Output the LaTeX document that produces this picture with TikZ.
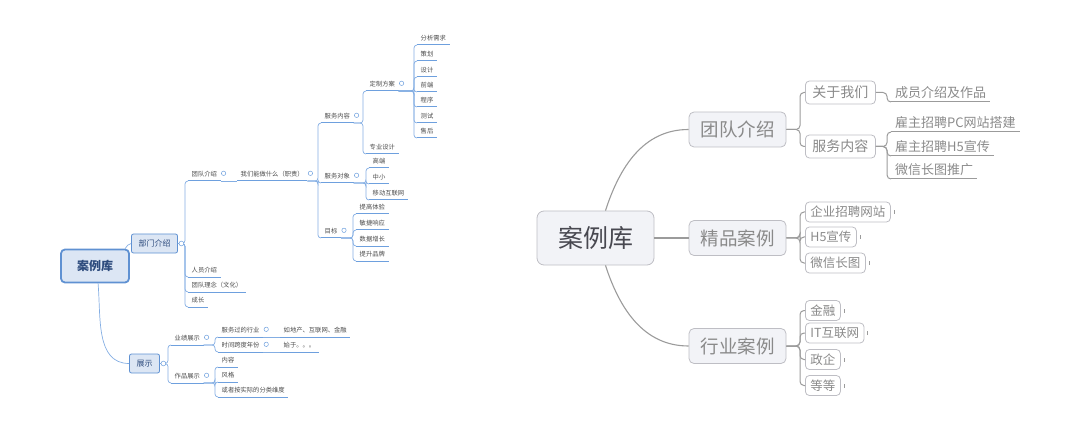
\documentclass[tikz,border=0pt]{standalone}
\usepackage{fontspec}
\setmainfont{Noto Sans CJK SC}
\usepackage{tikz}
\usetikzlibrary{positioning}
\definecolor{mapblue}{RGB}{95,145,210}
\definecolor{mapbluefill}{RGB}{220,230,244}
\definecolor{mapbluetext}{RGB}{45,75,125}
\definecolor{leafblue}{RGB}{110,160,222}
\definecolor{leaftext}{RGB}{75,75,75}
\definecolor{graybox}{RGB}{190,190,196}
\definecolor{grayfill}{RGB}{242,243,247}
\definecolor{grayline}{RGB}{155,155,155}
\definecolor{graytext}{RGB}{138,138,138}
\definecolor{rootgray}{RGB}{72,72,80}

\begin{document}
\begin{tikzpicture}[x=1pt, y=-1pt,
        lroot/.style={rectangle, draw=mapblue, line width=1.8pt, fill=mapbluefill, rounded corners=4pt, minimum width=68pt, minimum height=33pt, inner sep=0pt, font=\fontsize{12}{14}\selectfont\bfseries, text=mapbluetext},
        lmain/.style={rectangle, draw=mapblue, line width=0.8pt, fill=mapbluefill, rounded corners=2pt, minimum height=19pt, inner xsep=7pt, inner ysep=0pt, font=\fontsize{8}{10}\selectfont, text=mapbluetext},
        lline/.style={draw=leafblue, line width=1pt},
        lleaf/.style={font=\fontsize{6.3}{7}\selectfont, text=leaftext, inner xsep=3.5pt, inner ysep=2.5pt, text height=0.8em, text depth=0.2em, anchor=south west,
            append after command={(\tikzlastnode.south west) edge[lline] (\tikzlastnode.south east)}},
        lbranch/.style={draw=leafblue!85, line width=0.7pt, rounded corners=3pt},
        lfold/.style={draw=leafblue, fill=white, line width=0.5pt},
        rroot/.style={rectangle, draw=graybox, line width=0.8pt, fill=grayfill, rounded corners=7pt, minimum width=117pt, minimum height=54pt, inner sep=0pt, font=\fontsize{25}{30}\selectfont, text=rootgray},
        rmain/.style={rectangle, draw=graybox, line width=0.8pt, fill=grayfill, rounded corners=5pt, minimum width=97pt, minimum height=35pt, inner sep=0pt, font=\fontsize{18.5}{22}\selectfont, text=graytext},
        rsub/.style={rectangle, draw=graybox, line width=0.8pt, fill=white, rounded corners=4pt, minimum height=23pt, inner xsep=7pt, inner ysep=0pt, anchor=west, font=\fontsize{14}{16}\selectfont, text=graytext},
        rcase/.style={rectangle, draw=graybox, line width=0.8pt, fill=white, rounded corners=4pt, minimum height=20pt, inner xsep=5pt, inner ysep=0pt, anchor=west, font=\fontsize{12.5}{14}\selectfont, text=graytext},
        rline/.style={draw=grayline, line width=1pt},
        rleaf/.style={font=\fontsize{13}{15}\selectfont, text=graytext, inner xsep=4pt, inner ysep=2.5pt, text height=0.8em, text depth=0.2em, anchor=south west,
            append after command={(\tikzlastnode.south west) edge[rline] (\tikzlastnode.south east)}},
        rconn/.style={draw=grayline, line width=1.1pt},
        rbranch/.style={draw=grayline, line width=1pt, rounded corners=4pt}]

      \useasboundingbox (0,0) rectangle (1080,433);

      % left map
      \node[lroot] (lroot) at (95,266) {案例库};
      \node[lmain] (lpart) at (154.5,243.5) {部门介绍};
      \node[lmain] (lshow) at (144.5,363.5) {展示};

      \node[lleaf] (lteam) at (188,181) {团队介绍};
      \node[lleaf] (lstaff) at (188,277) {人员介绍};
      \node[lleaf] (lidea) at (188,292) {团队理念（文化）};
      \node[lleaf] (lgrow) at (188,307) {成长};
      \node[lleaf] (lwhat) at (237,181) {我们能做什么（职责）};
      \node[lleaf] (lsvc) at (321,123) {服务内容};
      \node[lleaf] (ltarget) at (321,183) {服务对象};
      \node[lleaf] (lgoal) at (321,238) {目标};
      \node[lleaf] (lplan) at (366,91) {定制方案};
      \node[lleaf] (lpro) at (366,154) {专业设计};
      \node[lleaf] (lneed) at (417,45) {分析需求};
      \node[lleaf] (lplot) at (417,61) {策划};
      \node[lleaf] (ldesign) at (417,77) {设计};
      \node[lleaf] (lfront) at (417,92) {前端};
      \node[lleaf] (lcode) at (417,107) {程序};
      \node[lleaf] (ltest) at (417,123) {测试};
      \node[lleaf] (lafter) at (417,138) {售后};
      \node[lleaf] (lhigh) at (369,168) {高端};
      \node[lleaf] (lsmall) at (369,184) {中小};
      \node[lleaf] (lmobile) at (369,200) {移动互联网};
      \node[lleaf] (lexp) at (356,214) {提高体验};
      \node[lleaf] (lagile) at (356,230) {敏捷响应};
      \node[lleaf] (ldata) at (356,246) {数据增长};
      \node[lleaf] (lbrand) at (356,261) {提升品牌};
      \node[lleaf] (lperf) at (171,345) {业绩展示};
      \node[lleaf] (lwork) at (171,383) {作品展示};
      \node[lleaf] (lind) at (218,337) {服务过的行业};
      \node[lleaf] (lindv) at (280,337) {如地产、互联网、金融};
      \node[lleaf] (lyear) at (218,352) {时间跨度年份};
      \node[lleaf] (lyearv) at (280,352) {始于。。。};
      \node[lleaf] (lcontent) at (218,367) {内容};
      \node[lleaf] (lstyle) at (218,382) {风格};
      \node[lleaf] (lother) at (218,397) {或者按实际的分类维度};

      \draw[lbranch] (lroot.30) to[out=50,in=180] (lpart.west);
      \draw[lbranch] (lroot.-80) to[out=-85,in=180] (lshow.west);
      \foreach \c in {lteam,lstaff,lidea,lgrow}
        \draw[lbranch] (lpart.east) -| ([xshift=-3pt]\c.south west) -- (\c.south west);
      \draw[lbranch] (lteam.south east) -- (lwhat.south west);
      \foreach \c in {lsvc,ltarget,lgoal}
        \draw[lbranch] (lwhat.south east) -| ([xshift=-3pt]\c.south west) -- (\c.south west);
      \foreach \c in {lplan,lpro}
        \draw[lbranch] (lsvc.south east) -| ([xshift=-3pt]\c.south west) -- (\c.south west);
      \foreach \c in {lneed,lplot,ldesign,lfront,lcode,ltest,lafter}
        \draw[lbranch] (lplan.south east) -| ([xshift=-3pt]\c.south west) -- (\c.south west);
      \foreach \c in {lhigh,lsmall,lmobile}
        \draw[lbranch] (ltarget.south east) -| ([xshift=-3pt]\c.south west) -- (\c.south west);
      \foreach \c in {lexp,lagile,ldata,lbrand}
        \draw[lbranch] (lgoal.south east) -| ([xshift=-3pt]\c.south west) -- (\c.south west);
      \foreach \c in {lperf,lwork}
        \draw[lbranch] (lshow.east) -| ([xshift=-3pt]\c.south west) -- (\c.south west);
      \foreach \c in {lind,lyear}
        \draw[lbranch] (lperf.south east) -| ([xshift=-3pt]\c.south west) -- (\c.south west);
      \foreach \c in {lcontent,lstyle,lother}
        \draw[lbranch] (lwork.south east) -| ([xshift=-3pt]\c.south west) -- (\c.south west);
      \draw[lbranch] (lind.south east) -- (lindv.south west);
      \draw[lbranch] (lyear.south east) -- (lyearv.south west);

      \foreach \p in {lteam,lwhat,lsvc,ltarget,lgoal,lplan,lperf,lwork,lind,lyear}
        \draw[lfold] ([xshift=3pt]\p.east) circle (2.2pt);
      \foreach \p in {lpart,lshow}
        \draw[lfold] ([xshift=3.5pt]\p.east) circle (2.4pt);

      % right map
      \node[rroot] (rroot) at (595.5,238) {案例库};
      \node[rmain] (rteam) at (737.5,129.5) {团队介绍};
      \node[rmain] (rbest) at (737.5,238) {精品案例};
      \node[rmain] (rind) at (737.5,346) {行业案例};
      \node[rsub] (rabout) at (805,92.5) {关于我们};
      \node[rsub] (rsvc) at (805,146.5) {服务内容};
      \node[rleaf] (rmember) at (891,102) {成员介绍及作品};
      \node[rleaf] (rpc) at (891,132) {雇主招聘PC网站搭建};
      \node[rleaf] (rh5) at (891,156) {雇主招聘H5宣传};
      \node[rleaf] (rlong) at (891,179) {微信长图推广};
      \node[rcase] (rsite) at (805,212) {企业招聘网站};
      \node[rcase] (rh5ad) at (805,237) {H5宣传};
      \node[rcase] (rlongimg) at (805,263) {微信长图};
      \node[rcase] (rfin) at (805,310.5) {金融};
      \node[rcase] (rit) at (805,333) {IT互联网};
      \node[rcase] (rgov) at (805,359.5) {政企};
      \node[rcase] (retc) at (805,385.5) {等等};

      \draw[rconn] (rroot.70) to[out=72,in=180] (rteam.west);
      \draw[rconn] (rroot.east) -- (rbest.west);
      \draw[rconn] (rroot.-70) to[out=-72,in=180] (rind.west);
      \foreach \c in {rabout,rsvc}
        \draw[rbranch] (rteam.east) -| ([xshift=-5pt]\c.west) -- (\c.west);
      \draw[rbranch] (rabout.east) -| ([xshift=-4pt]rmember.south west) -- (rmember.south west);
      \foreach \c in {rpc,rh5,rlong}
        \draw[rbranch] (rsvc.east) -| ([xshift=-4pt]\c.south west) -- (\c.south west);
      \foreach \c in {rsite,rh5ad,rlongimg}
        \draw[rbranch] (rbest.east) -| ([xshift=-5pt]\c.west) -- (\c.west);
      \foreach \c in {rfin,rit,rgov,retc}
        \draw[rbranch] (rind.east) -| ([xshift=-5pt]\c.west) -- (\c.west);
      \foreach \c in {rsite,rh5ad,rlongimg,rfin,rit,rgov,retc}
        \draw[rline, line width=0.6pt] ([xshift=3pt,yshift=-2pt]\c.east) -- ++(0,4pt);
    \end{tikzpicture}
\end{document}
